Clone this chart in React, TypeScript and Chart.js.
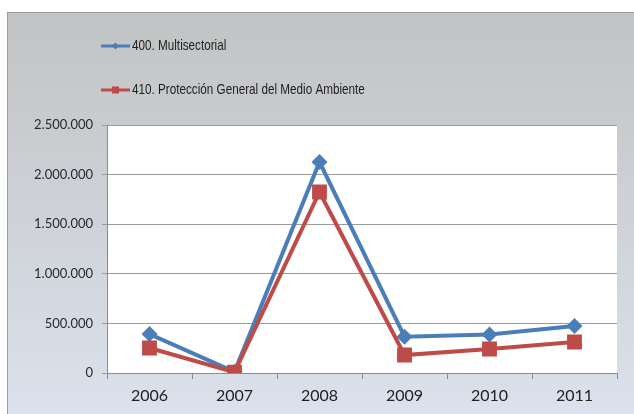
import React, { useEffect, useRef } from "react";
import { Chart, registerables } from "chart.js";

Chart.register(...registerables);

const years = ["2006", "2007", "2008", "2009", "2010", "2011"];
const multisectorial = [392000, 12000, 2127000, 366000, 388000, 474000];
const proteccion = [252000, 8000, 1825000, 181000, 242000, 312000];
const seriesNames = ["400. Multisectorial", "410. Protección General del Medio Ambiente"];
const blue = "#4A7EBB";
const red = "#BE4B48";

const fmt = (v: number) => String(Math.round(v)).replace(/\B(?=(\d{3})+(?!\d))/g, ".");

export default function App() {
  const ref = useRef<HTMLCanvasElement | null>(null);
  useEffect(() => {
    if (!ref.current) return;
    const bgPlugin = {
      id: "plotBg",
      beforeDraw(chart: any) {
        const { ctx, chartArea } = chart;
        ctx.save();
        ctx.fillStyle = "#ffffff";
        ctx.fillRect(chartArea.left, chartArea.top, chartArea.right - chartArea.left, chartArea.bottom - chartArea.top);
        ctx.restore();
      },
    };
    const legendPlugin = {
      id: "customLegend",
      afterDraw(chart: any) {
        const ctx = chart.ctx;
        const items = [
          { name: seriesNames[0], color: blue, y: 33, shape: "diamond" },
          { name: seriesNames[1], color: red, y: 77, shape: "square" },
        ];
        ctx.save();
        for (const it of items) {
          ctx.strokeStyle = it.color;
          ctx.lineWidth = 3;
          ctx.beginPath();
          ctx.moveTo(93, it.y);
          ctx.lineTo(122, it.y);
          ctx.stroke();
          ctx.fillStyle = it.color;
          const cx = 107.5;
          if (it.shape === "diamond") {
            ctx.beginPath();
            ctx.moveTo(cx, it.y - 3.5);
            ctx.lineTo(cx + 3.5, it.y);
            ctx.lineTo(cx, it.y + 3.5);
            ctx.lineTo(cx - 3.5, it.y);
            ctx.closePath();
            ctx.fill();
          } else {
            ctx.fillRect(cx - 3.5, it.y - 3.5, 7, 7);
          }
          ctx.save();
          ctx.translate(124, it.y);
          ctx.scale(0.78, 1);
          ctx.fillStyle = "#1e1e1e";
          ctx.font = "15px 'Liberation Sans', Arial, sans-serif";
          ctx.textBaseline = "middle";
          ctx.textAlign = "left";
          ctx.fillText(it.name, 0, 0);
          ctx.restore();
        }
        ctx.restore();
      },
    };
    const chart = new Chart(ref.current, {
      type: "line",
      data: {
        labels: years,
        datasets: [
          {
            label: seriesNames[0],
            data: multisectorial,
            borderColor: blue,
            backgroundColor: blue,
            borderWidth: 4,
            pointStyle: "rectRot",
            pointRadius: 8,
            pointBorderWidth: 0,
            order: 1,
          },
          {
            label: seriesNames[1],
            data: proteccion,
            borderColor: red,
            backgroundColor: red,
            borderWidth: 4,
            pointStyle: "rect",
            pointRadius: 10.5,
            pointBorderWidth: 0,
            order: 0,
          },
        ],
      },
      options: {
        animation: false,
        responsive: false,
        maintainAspectRatio: false,
        layout: { padding: { top: 112, right: 17, left: 0, bottom: 0 } },
        plugins: { legend: { display: false }, tooltip: { enabled: false } },
        scales: {
          x: {
            offset: true,
            grid: {
              offset: true,
              drawOnChartArea: false,
              drawTicks: true,
              tickLength: 6,
              color: "#8c8c8c",
            },
            border: { display: true, color: "#8c8c8c" },
            ticks: {
              color: "#222",
              font: { family: "Lato, 'Open Sans', sans-serif", size: 16 },
              padding: 7,
            },
            afterFit(scale: any) {
              scale.height = 41;
            },
          },
          y: {
            min: 0,
            max: 2500000,
            grid: { color: "#9a9a9a", tickLength: 5, drawTicks: true },
            border: { display: true, color: "#8c8c8c" },
            ticks: {
              stepSize: 500000,
              color: "#2a2a2a",
              font: { family: "Lato, 'Open Sans', sans-serif", size: 13 },
              padding: 9,
              callback: (v: any) => fmt(Number(v)),
            },
            afterFit(scale: any) {
              scale.width = 99;
            },
          },
        },
      },
      plugins: [bgPlugin, legendPlugin],
    });
    return () => chart.destroy();
  }, []);

  return (
    <div
      style={{
        position: "absolute",
        left: 7,
        top: 12,
        width: 626,
        height: 401,
        borderLeft: "1px solid #9b9b9b",
        borderTop: "1px solid #9b9b9b",
        background: "linear-gradient(to bottom, #c2c3c4 0%, #cdd0d5 45%, #dbe2ed 100%)",
      }}
    >
      <canvas ref={ref} width={626} height={401} style={{ display: "block" }} />
    </div>
  );
}
